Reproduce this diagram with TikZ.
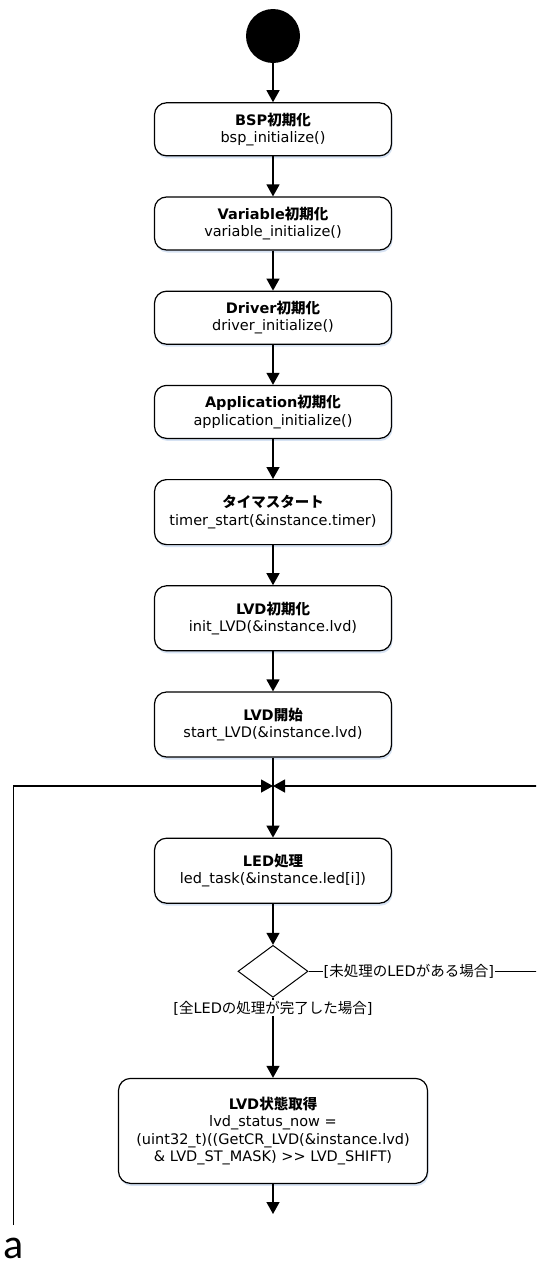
\documentclass[tikz,border=0pt]{standalone}
\usepackage{fontspec}
\setmainfont{DejaVu Sans}
\newfontfamily\jp{Noto Sans CJK JP}
\newfontfamily\lat{Carlito}
\usepackage{tikz}
\usetikzlibrary{positioning,shapes.geometric,arrows.meta,shadows}
\definecolor{shadowblue}{RGB}{196,214,238}

\begin{document}
\begin{tikzpicture}[
    x=1pt, y=-1pt,
    node distance=40pt,
    >={Triangle[width=13pt,length=12pt]},
    line/.style={line width=1.3pt},
    flow/.style={line,->},
    act/.style={rectangle,rounded corners=12pt,draw,line width=1.2pt,fill=white,
        minimum width=237pt,minimum height=53pt,align=center,inner sep=2pt,
        font=\fontsize{14.5}{17.5}\selectfont,
        drop shadow={shadow xshift=1pt,shadow yshift=-2.5pt,fill=shadowblue,opacity=.7}},
    tall/.style={act,minimum height=65pt},
    initial/.style={circle,fill=black,minimum size=54pt,inner sep=0pt},
    choice/.style={diamond,draw,line width=1pt,minimum width=70pt,minimum height=52pt,inner sep=0pt},
    guard/.style={font=\fontsize{14.5}{17.5}\selectfont,inner sep=1pt,fill=white},
]
\useasboundingbox (0,0) rectangle (536,1269);
\clip (0,0) rectangle (536,1269);

\node[initial] (init) at (273,36) {};
\node[act, below=39pt of init] (bsp) {{\bfseries BSP{\jp 初期化}}\\bsp\_initialize()};
\node[act, below=of bsp] (var) {{\bfseries Variable{\jp 初期化}}\\variable\_initialize()};
\node[act, below=of var] (drv) {{\bfseries Driver{\jp 初期化}}\\driver\_initialize()};
\node[act, below=of drv] (app) {{\bfseries Application{\jp 初期化}}\\application\_initialize()};
\node[tall, below=of app] (tmr) {{\bfseries\jp タイマスタート}\\timer\_start(\&instance.timer)};
\node[tall, below=of tmr] (lvdinit) {{\bfseries LVD{\jp 初期化}}\\init\_LVD(\&instance.lvd)};
\node[tall, below=of lvdinit] (lvdstart) {{\bfseries LVD{\jp 開始}}\\start\_LVD(\&instance.lvd)};
\node[tall, below=80pt of lvdstart] (led) {{\bfseries LED{\jp 処理}}\\led\_task(\&instance.led[i])};
\node[choice, below=41pt of led] (more) {};
\node[guard, right=14pt of more] (yes) {[{\jp 未処理の}LED{\jp がある場合}]};
\node[guard] (no) at (273,1008) {[{\jp 全}LED{\jp の処理が完了した場合}]};
\node[act, minimum width=309pt, minimum height=105pt, below=80pt of more] (lvdst)
    {{\bfseries LVD{\jp 状態取得}}\\lvd\_status\_now =\\(uint32\_t)((GetCR\_LVD(\&instance.lvd)\\\& LVD\_ST\_MASK) >{}> LVD\_SHIFT)};

\coordinate (merge) at (273,786);
\coordinate (loopend) at (13.5,1225);
\coordinate (out) at (273,1214);
\node[font=\lat\fontsize{42}{46}\selectfont, inner sep=0pt, anchor=base] (cont) at (14,1258) {a};

% main flow
\draw[flow] (init) -- (bsp);
\draw[flow] (bsp) -- (var);
\draw[flow] (var) -- (drv);
\draw[flow] (drv) -- (app);
\draw[flow] (app) -- (tmr);
\draw[flow] (tmr) -- (lvdinit);
\draw[flow] (lvdinit) -- (lvdstart);
\draw[flow] (lvdstart) -- (led);
\draw[flow] (led) -- (more);
\draw[line] (more) -- (no);
\draw[flow] (no) -- (lvdst);
\draw[flow] (lvdst) -- (out);

% loops back to merge
\draw[line] (more) -- (yes);
\draw[flow] (yes.east) -- ++(60,0) |- (merge);
\draw[flow] (loopend) |- (merge);
\end{tikzpicture}
\end{document}
